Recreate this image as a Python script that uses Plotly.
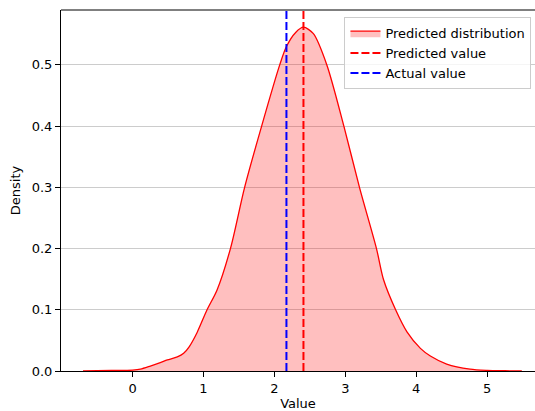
import plotly.graph_objects as go

# KDE curve
kde_x = [-0.7, -0.3, 0.0, 0.11, 0.25, 0.39, 0.49, 0.63, 0.72, 0.80, 0.91, 1.05, 1.19, 1.38,
         1.58, 1.82, 2.075, 2.17, 2.30, 2.41, 2.55, 2.74, 2.98, 3.20, 3.44, 3.54, 3.71,
         3.87, 4.06, 4.20, 4.43, 4.76, 5.0, 5.25, 5.49]
kde_y = [0.0002, 0.0008, 0.0015, 0.003, 0.008, 0.0136, 0.018, 0.023, 0.029, 0.040, 0.063,
         0.1, 0.132, 0.2, 0.3, 0.4, 0.5, 0.53, 0.553, 0.5616, 0.551, 0.5, 0.4, 0.3, 0.2,
         0.149, 0.1, 0.064, 0.037, 0.0245, 0.0114, 0.003, 0.001, 0.0004, 0.0001]

predicted_value = 2.41
actual_value = 2.17

x_ticks = [0, 1, 2, 3, 4, 5]
y_ticks = [0.0, 0.1, 0.2, 0.3, 0.4, 0.5]
y_top = 0.5897

font = dict(family="DejaVu Sans", size=13, color="black")

fig = go.Figure()
fig.add_trace(go.Scatter(
    x=kde_x, y=kde_y, mode="lines", fill="tozeroy",
    line=dict(color="red", width=1.3, shape="spline", smoothing=0.8),
    fillcolor="rgba(255,0,0,0.25)", name="Predicted distribution"))
fig.add_trace(go.Scatter(
    x=[predicted_value, predicted_value], y=[0, y_top], mode="lines",
    line=dict(color="red", width=2, dash="8px,3px"), name="Predicted value"))
fig.add_trace(go.Scatter(
    x=[actual_value, actual_value], y=[0, y_top], mode="lines",
    line=dict(color="blue", width=2, dash="8px,3px"), name="Actual value"))

fig.update_layout(
    width=535, height=411,
    margin=dict(l=61, r=0, t=10, b=40),
    plot_bgcolor="white", paper_bgcolor="white",
    font=font,
    legend=dict(x=0.598, y=0.98, xanchor="left", yanchor="top",
                bgcolor="rgba(255,255,255,0.8)", bordercolor="#cccccc", borderwidth=1,
                font=dict(family="DejaVu Sans", size=13), tracegroupgap=0,
                itemwidth=30),
    showlegend=True,
)
fig.update_xaxes(
    range=[-1.01, 5.676], tickvals=x_ticks, ticks="outside", ticklen=5, tickwidth=1,
    tickcolor="black", showgrid=False, showline=True, linecolor="black", linewidth=1,
    mirror=False, zeroline=False,
    title=dict(text="Value", font=dict(family="DejaVu Sans", size=13), standoff=4))
fig.update_yaxes(
    range=[0, y_top], tickvals=y_ticks, tickformat=".1f", ticks="outside", ticklen=5,
    tickwidth=1, tickcolor="black", showgrid=True, gridcolor="#cccccc", gridwidth=1,
    showline=True, linecolor="black", linewidth=1, zeroline=False,
    title=dict(text="Density", font=dict(family="DejaVu Sans", size=13), standoff=8))
# top spine
fig.add_shape(type="line", xref="paper", yref="paper", x0=0, x1=1, y0=1, y1=1,
              line=dict(color="black", width=1))

fig.write_html("out.html", config={"displayModeBar": False},
               post_script="document.body.style.margin='0';")
